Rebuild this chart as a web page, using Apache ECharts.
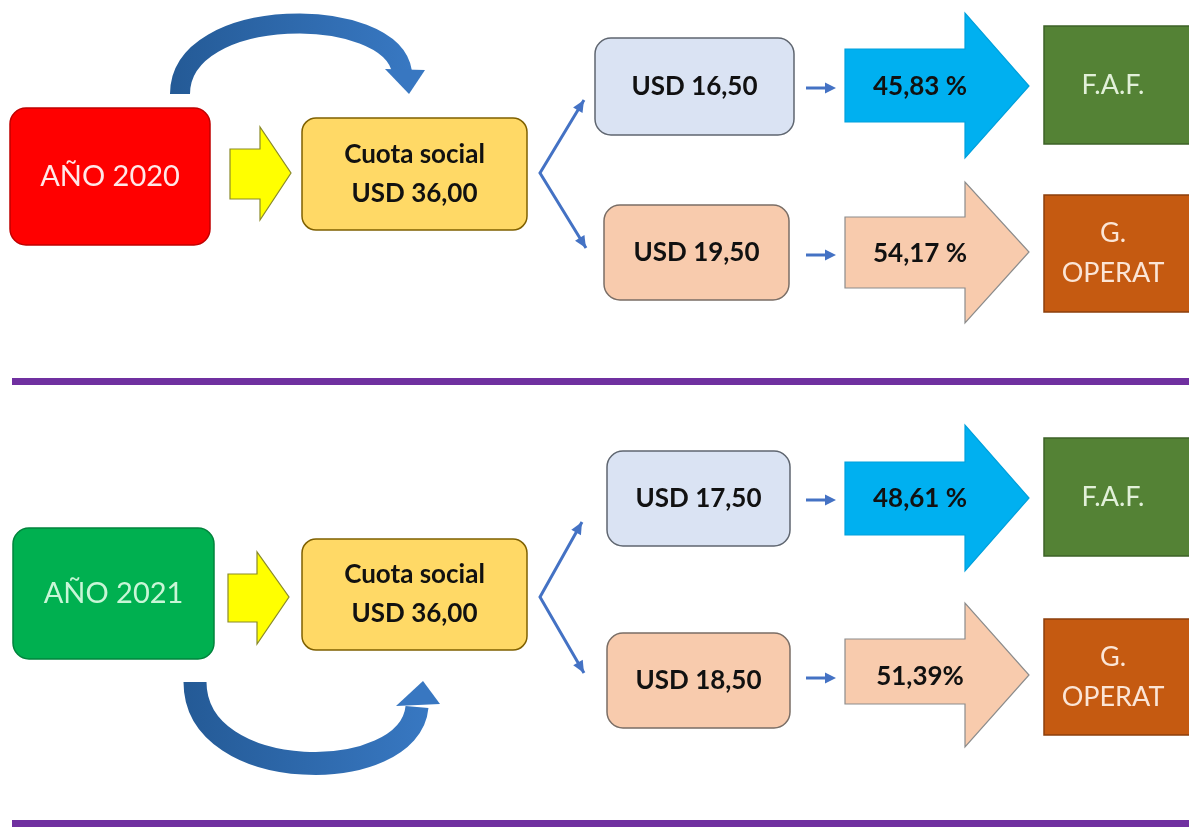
<!DOCTYPE html>
<html>
<head>
<meta charset="utf-8">
<script src="https://cdn.jsdelivr.net/npm/echarts@6/dist/echarts.min.js"></script>
<style>
html, body { margin: 0; padding: 0; background: #fff; }
#chart { width: 1189px; height: 828px; }
</style>
</head>
<body>
<div id="chart"></div>
<script>
// diagram content
const years = ['AÑO 2020', 'AÑO 2021']
const yearColors = ['#FF0000', '#00B050']
const yearTextColors = ['#FFE8E8', '#C9F6D7']
const cuotaTitle = 'Cuota social'
const cuotaAmounts = ['USD 36,00', 'USD 36,00']
const fafAmounts = ['USD 16,50', 'USD 17,50']
const opAmounts = ['USD 19,50', 'USD 18,50']
const fafPercents = ['45,83 %', '48,61 %']
const opPercents = ['54,17 %', '51,39%']
const destinations = ['F.A.F.', 'G.\nOPERAT']

// layout of the two panels (top = 2020, bottom = 2021)
const panels = [
  {
    year: [10, 108, 200, 137], yArrow: [230, 260, 291, 149, 199, 127, 220, 173],
    cuota: [302, 118, 225, 112], split: [540, 173, 584, 100, 586, 248],
    up: [595, 38, 199, 97], down: [604, 205, 185, 95],
    upArrow: [49, 122, 13, 158, 86], downArrow: [217, 288, 182, 323, 252],
    faf: [1044, 26, 150, 118], op: [1044, 195, 150, 117], rule: 382,
    loop: { w: 20, p0: [180, 94], c1: [180, 4], c2: [392, 4], p3: [402, 72], head: [[385, 69], [425, 70], [409, 94]] }
  },
  {
    year: [13, 528, 201, 131], yArrow: [228, 257, 289, 574, 622, 552, 644, 597],
    cuota: [302, 539, 225, 111], split: [540, 597, 582, 522, 584, 673],
    up: [607, 451, 183, 95], down: [607, 633, 183, 95],
    upArrow: [462, 535, 425, 571, 498], downArrow: [639, 704, 603, 747, 675],
    faf: [1044, 438, 150, 118], op: [1044, 619, 150, 116], rule: 824,
    loop: { w: 23, p0: [195, 682], c1: [195, 786], c2: [410, 786], p3: [417, 707], head: [[396, 706], [440, 704], [423, 681]] }
  }
]

const FONT = 'Lato, "Open Sans", sans-serif'
const BLUE_LINE = '#4472C4'

const chart = echarts.init(document.getElementById('chart'))
const g = []

const box = (b, fill, stroke, r) => g.push({
  type: 'rect', shape: { x: b[0], y: b[1], width: b[2], height: b[3], r: r },
  style: { fill, stroke, lineWidth: 1.5 }
})
const label = (x, y, text, size, weight, color, lh) => g.push({
  type: 'text', x, y,
  style: {
    text, fill: color, fontSize: size, fontWeight: weight, fontFamily: FONT,
    align: 'center', verticalAlign: 'middle', lineHeight: lh || size * 1.2
  }
})
const bigArrow = (x0, xb, xt, a, fill, stroke) => g.push({
  type: 'polygon',
  shape: { points: [[x0, a[0]], [xb, a[0]], [xb, a[2]], [xt, a[4]], [xb, a[3]], [xb, a[1]], [x0, a[1]]] },
  style: { fill, stroke, lineWidth: 1.2 }
})
const head = (fx, fy, tx, ty, len, half, color) => {
  const dx = tx - fx, dy = ty - fy, d = Math.hypot(dx, dy)
  const ux = dx / d, uy = dy / d
  const bx = tx - ux * len, by = ty - uy * len
  g.push({
    type: 'polygon',
    shape: { points: [[tx, ty], [bx - uy * half, by + ux * half], [bx + uy * half, by - ux * half]] },
    style: { fill: color }
  })
}
const smallArrow = (x0, x1, y) => {
  g.push({ type: 'line', shape: { x1: x0, y1: y, x2: x1 - 8, y2: y }, style: { stroke: BLUE_LINE, lineWidth: 3 } })
  head(x0, y, x1, y, 11, 5.5, BLUE_LINE)
}

panels.forEach((p, i) => {
  // year box
  box(p.year, yearColors[i], i === 0 ? '#C00000' : '#00843C', 16)
  label(p.year[0] + p.year[2] / 2, p.year[1] + p.year[3] / 2, years[i], 29, 'normal', yearTextColors[i])

  // yellow block arrow
  const y = p.yArrow
  g.push({
    type: 'polygon',
    shape: { points: [[y[0], y[3]], [y[1], y[3]], [y[1], y[5]], [y[2], y[7]], [y[1], y[6]], [y[1], y[4]], [y[0], y[4]]] },
    style: { fill: '#FFFF00', stroke: '#8A8A2A', lineWidth: 1.2 }
  })

  // cuota social box
  box(p.cuota, '#FFD966', '#7F6000', 14)
  const cx = p.cuota[0] + p.cuota[2] / 2, cy = p.cuota[1] + p.cuota[3] / 2
  label(cx, cy, cuotaTitle + '\n' + cuotaAmounts[i], 26, 'bold', '#111', 39)

  // split arrows
  const s = p.split
  g.push({
    type: 'polyline',
    shape: { points: [[s[2], s[3]], [s[0], s[1]], [s[4], s[5]]] },
    style: { stroke: BLUE_LINE, lineWidth: 3, fill: null }
  })
  head(s[0], s[1], s[2], s[3], 12, 5.5, BLUE_LINE)
  head(s[0], s[1], s[4], s[5], 12, 5.5, BLUE_LINE)

  // amount boxes
  box(p.up, '#DAE3F3', '#5F6670', 16)
  label(p.up[0] + p.up[2] / 2, p.up[1] + p.up[3] / 2, fafAmounts[i], 26, 'bold', '#111')
  box(p.down, '#F8CBAD', '#7A6E66', 16)
  label(p.down[0] + p.down[2] / 2, p.down[1] + p.down[3] / 2, opAmounts[i], 26, 'bold', '#111')

  // small connector arrows
  smallArrow(806, 836, p.upArrow[4] + 2)
  smallArrow(806, 836, p.downArrow[4] + 3)

  // big percentage arrows
  bigArrow(845, 965, 1029, p.upArrow, '#00B0F0', '#00A0DC')
  label(920, p.upArrow[4] + 1, fafPercents[i], 26, 'bold', '#111')
  bigArrow(845, 965, 1029, p.downArrow, '#F8CBAD', '#8C8C8C')
  label(920, p.downArrow[4] + 2, opPercents[i], 26, 'bold', '#111')

  // destination boxes
  box(p.faf, '#548235', '#3D6127', 0)
  label(1113, p.faf[1] + p.faf[3] / 2, destinations[0], 27, 'normal', '#E2F0D9')
  box(p.op, '#C55A11', '#8C3F0C', 0)
  label(1113, p.op[1] + p.op[3] / 2, destinations[1], 27, 'normal', '#FBE5D6', 40)

  // curved loop arrow
  const L = p.loop
  const grad = new echarts.graphic.LinearGradient(0, 0, 1, 0, [
    { offset: 0, color: '#245A96' },
    { offset: 1, color: '#3878C2' }
  ])
  g.push({
    type: 'bezierCurve',
    shape: { x1: L.p0[0], y1: L.p0[1], cpx1: L.c1[0], cpy1: L.c1[1], cpx2: L.c2[0], cpy2: L.c2[1], x2: L.p3[0], y2: L.p3[1] },
    style: { stroke: grad, lineWidth: L.w, fill: null, lineCap: 'butt' }
  })
  g.push({ type: 'polygon', shape: { points: L.head }, style: { fill: '#3877C1' } })

  // purple separator
  g.push({ type: 'rect', shape: { x: 12, y: p.rule - 4, width: 1177, height: 7 }, style: { fill: '#7030A0' } })
})

chart.setOption({ backgroundColor: '#fff', graphic: g })
window.addEventListener('resize', () => chart.resize())
</script>
</body>
</html>
